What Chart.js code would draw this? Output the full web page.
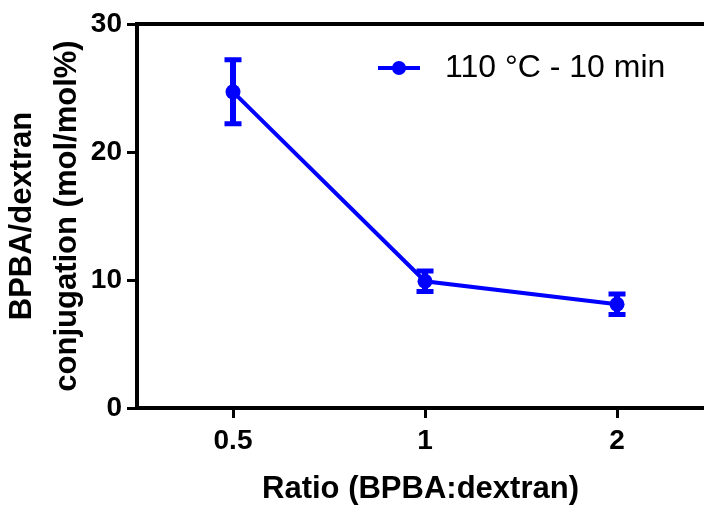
<!DOCTYPE html>
<html>
<head>
<meta charset="utf-8">
<script src="https://cdn.jsdelivr.net/npm/chart.js@4.4.1/dist/chart.umd.min.js"></script>
<style>
  html, body { margin: 0; padding: 0; background: #fff; overflow: hidden; }
  #wrap { width: 704px; height: 505px; }
</style>
</head>
<body>
<div id="wrap"><canvas id="chart" width="704" height="505"></canvas></div>
<script>
// data
const ratioLabels = ['0.5', '1', '2'];
const conjugation = [24.7, 9.9, 8.1];
const conjugationSd = [2.5, 0.8, 0.8];
const yTicks = [0, 10, 20, 30];
const seriesName = '110 °C - 10 min';

const blue = '#0000ff';
const fontFam = '"Liberation Sans", Arial, sans-serif';

// legend marker: line with a dot
const legendMark = document.createElement('canvas');
legendMark.width = 42;
legendMark.height = 16;
(function () {
    const c = legendMark.getContext('2d');
    c.strokeStyle = blue;
    c.lineWidth = 4;
    c.beginPath();
    c.moveTo(0, 8);
    c.lineTo(42, 8);
    c.stroke();
    c.fillStyle = blue;
    c.beginPath();
    c.arc(21, 8, 7, 0, Math.PI * 2);
    c.fill();
})();

// error bars (mean +/- sd)
const errorBars = {
    id: 'errorBars',
    afterDatasetsDraw(chart) {
        const ctx = chart.ctx;
        const xs = chart.scales.x, ys = chart.scales.y;
        ctx.save();
        ctx.strokeStyle = blue;
        conjugation.forEach(function (v, i) {
            const x = xs.getPixelForValue(i);
            const top = ys.getPixelForValue(v + conjugationSd[i]);
            const bot = ys.getPixelForValue(v - conjugationSd[i]);
            ctx.lineWidth = 6;
            ctx.beginPath();
            ctx.moveTo(x, top);
            ctx.lineTo(x, bot);
            ctx.stroke();
            ctx.lineWidth = 5;
            ctx.beginPath();
            ctx.moveTo(x - 8.5, top);
            ctx.lineTo(x + 8.5, top);
            ctx.moveTo(x - 8.5, bot);
            ctx.lineTo(x + 8.5, bot);
            ctx.stroke();
        });
        ctx.restore();
    }
};

// top frame line + legend placed in the upper right of the plot
const frame = {
    id: 'frame',
    afterLayout(chart) {
        const a = chart.chartArea;
        chart.legend.top = a.top + 3;
        chart.legend.left = a.right - 360;
    },
    beforeDatasetsDraw(chart) {
        const a = chart.chartArea, ctx = chart.ctx;
        ctx.save();
        ctx.strokeStyle = '#000';
        ctx.lineWidth = 4;
        ctx.beginPath();
        ctx.moveTo(a.left - 2, a.top);
        ctx.lineTo(a.right, a.top);
        ctx.stroke();
        ctx.restore();
    }
};

const ctx = document.querySelector('#chart').getContext('2d');
const chart = new Chart(ctx, {
    type: 'line',
    data: {
        datasets: [{
            label: seriesName,
            data: conjugation.map(function (v, i) { return {x: i, y: v}; }),
            borderColor: blue,
            backgroundColor: blue,
            borderWidth: 4,
            pointRadius: 7.5,
            pointBorderWidth: 0,
            pointBackgroundColor: blue,
            tension: 0
        }]
    },
    plugins: [errorBars, frame],
    options: {
        responsive: false,
        animation: false,
        layout: {autoPadding: false, padding: {top: 24, right: 0, left: 0, bottom: 0}},
        scales: {
            x: {
                type: 'linear',
                min: -0.5,
                max: 2.453,
                afterBuildTicks: function (scale) {
                    scale.ticks = ratioLabels.map(function (l, i) { return {value: i}; });
                },
                afterFit: function (scale) { scale.height = 97; },
                grid: {display: true, drawOnChartArea: false, tickLength: 10, tickWidth: 3, tickColor: '#000'},
                border: {color: '#000', width: 4},
                ticks: {
                    color: '#000',
                    padding: 6,
                    maxRotation: 0,
                    font: {family: fontFam, size: 28, weight: 'bold'},
                    callback: function (v) { return ratioLabels[v]; }
                },
                title: {
                    display: true,
                    text: 'Ratio (BPBA:dextran)',
                    color: '#000',
                    font: {family: fontFam, size: 31, weight: 'bold', lineHeight: 1},
                    padding: 0
                }
            },
            y: {
                min: 0,
                max: 30,
                afterBuildTicks: function (scale) {
                    scale.ticks = yTicks.map(function (t) { return {value: t}; });
                },
                afterFit: function (scale) { scale.width = 137; },
                grid: {display: true, drawOnChartArea: false, tickLength: 10, tickWidth: 3, tickColor: '#000'},
                border: {color: '#000', width: 4},
                ticks: {
                    color: '#000',
                    padding: 5,
                    font: {family: fontFam, size: 28, weight: 'bold'}
                },
                title: {
                    display: true,
                    text: ['BPBA/dextran', 'conjugation (mol/mol%)'],
                    color: '#000',
                    font: {family: fontFam, size: 31, weight: 'bold', lineHeight: 1.45},
                    padding: 0
                }
            }
        },
        plugins: {
            legend: {
                position: 'chartArea',
                align: 'start',
                labels: {
                    usePointStyle: true,
                    pointStyleWidth: 60,
                    padding: 25,
                    color: '#000',
                    font: {family: fontFam, size: 32},
                    generateLabels: function (chart) {
                        return [{
                            text: seriesName,
                            pointStyle: legendMark,
                            fillStyle: blue,
                            strokeStyle: blue,
                            lineWidth: 0,
                            datasetIndex: 0
                        }];
                    }
                }
            },
            tooltip: {enabled: false}
        }
    }
});
</script>
</body>
</html>
